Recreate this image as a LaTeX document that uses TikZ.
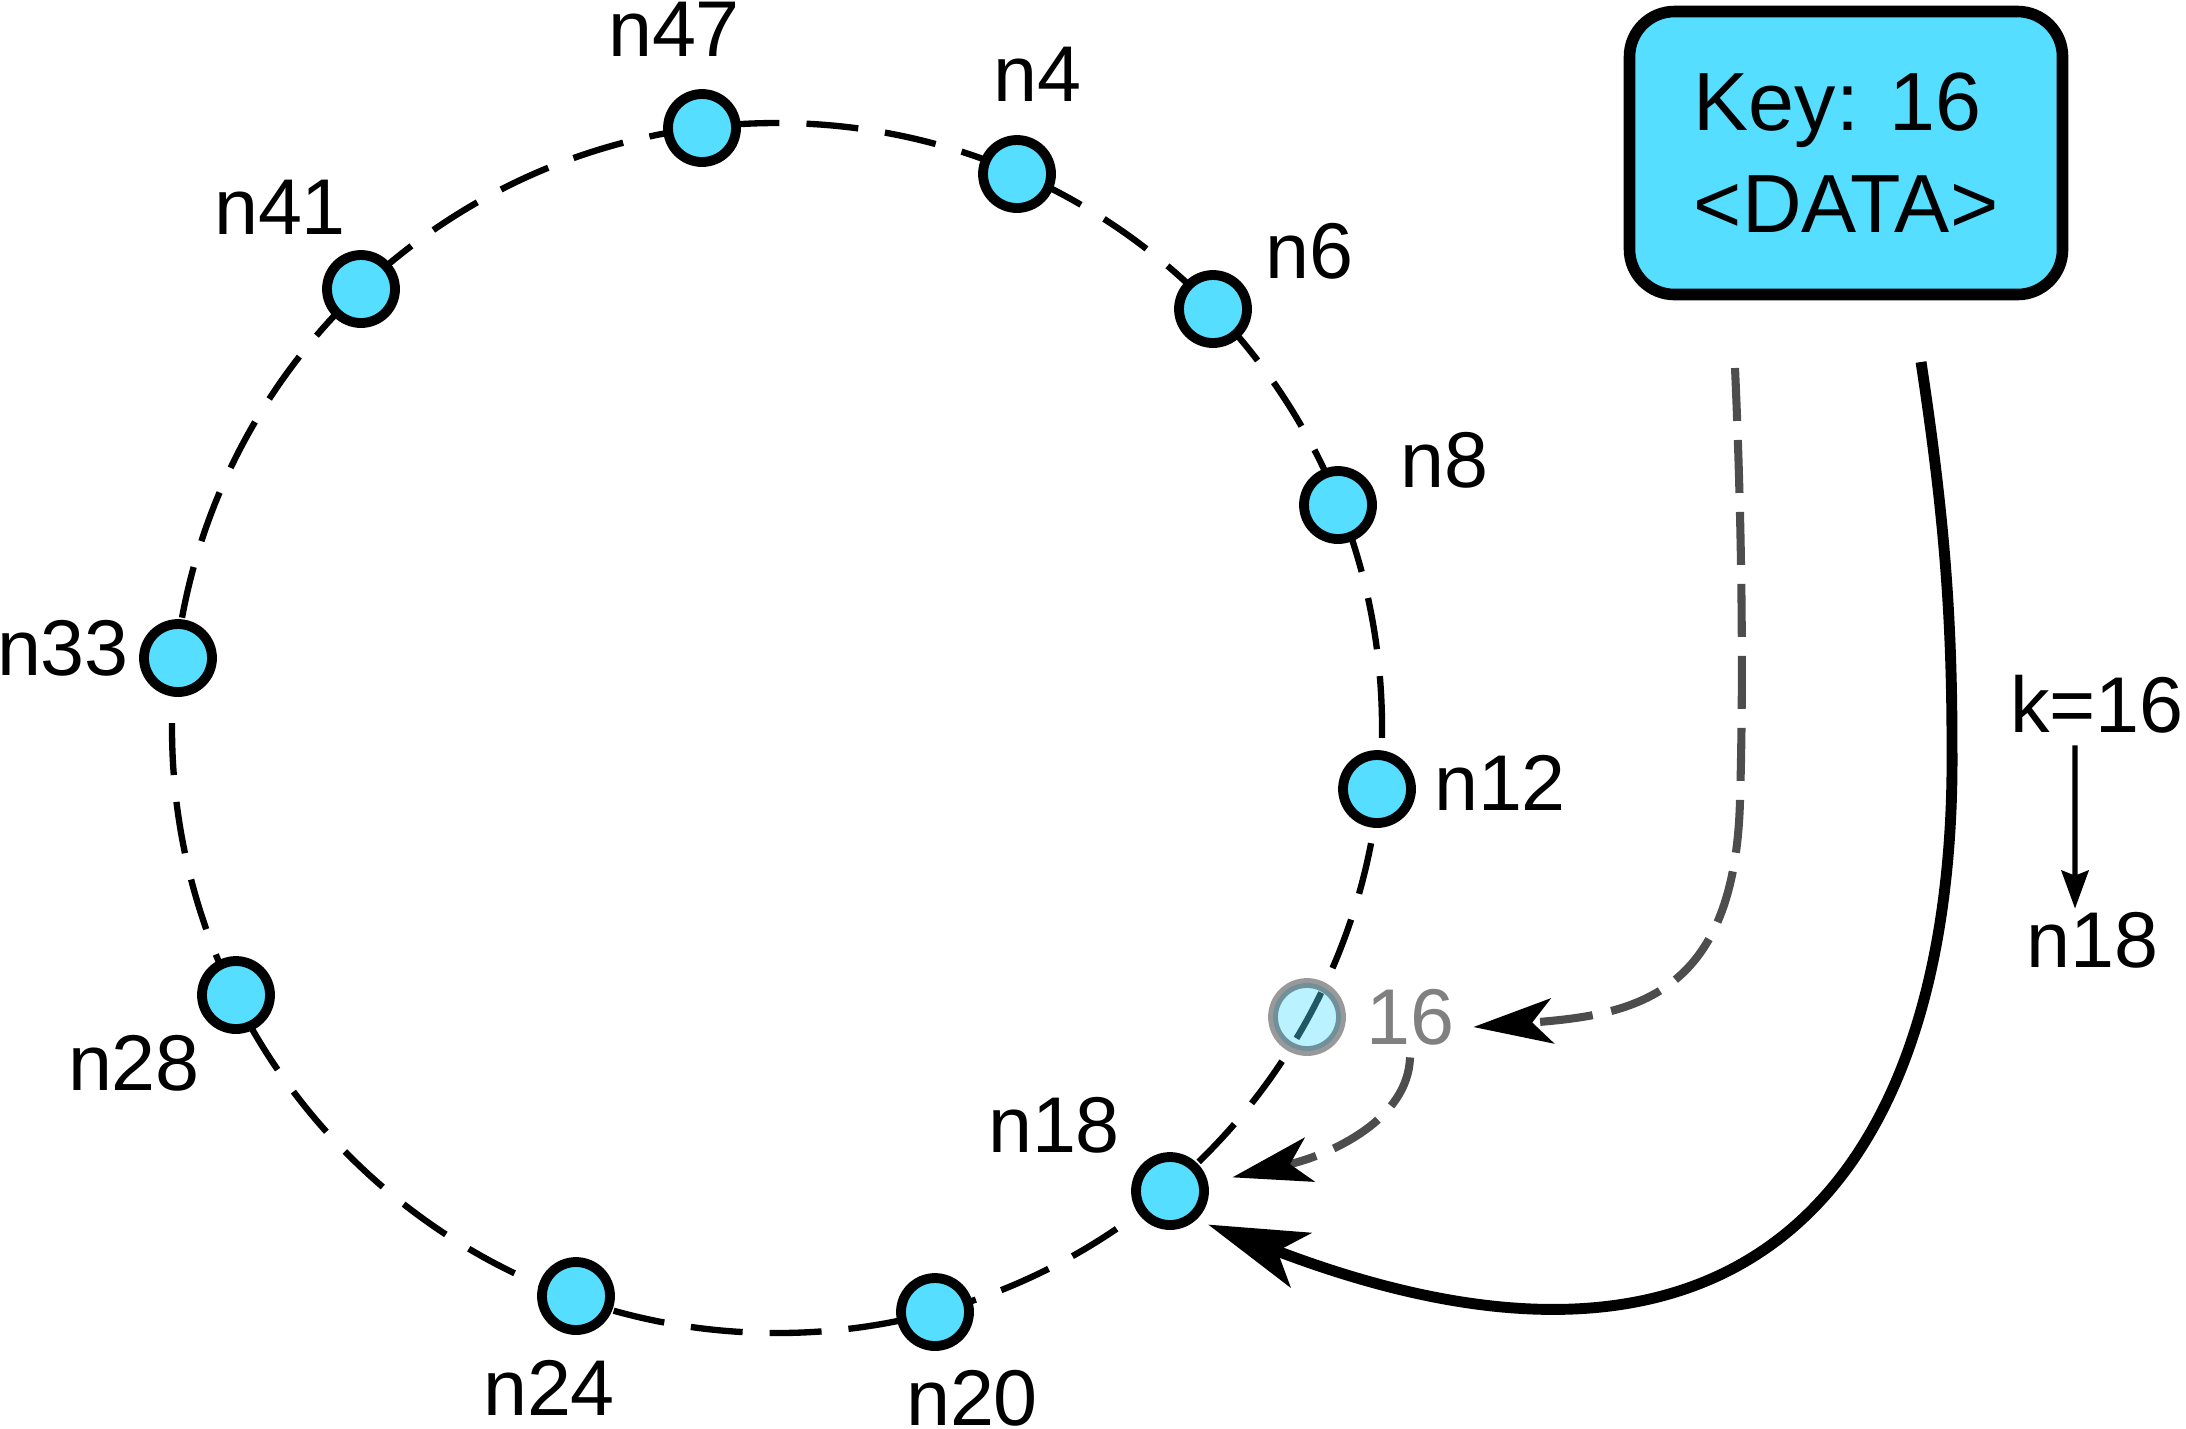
\documentclass[tikz,border=0pt]{standalone}
\usepackage{fontspec}
\setmainfont{Liberation Sans}
\usetikzlibrary{arrows.meta}
\definecolor{peercyan}{RGB}{85,222,255}
\definecolor{hopgray}{RGB}{77,77,77}
\tikzset{
  peer/.style={circle, draw=black, line width=2.8pt, fill=peercyan, minimum size=6.8mm, inner sep=0pt},
  ring/.style={line width=1.8pt, dash pattern=on 5.2mm off 2.7mm},
  hop/.style={hopgray, line width=2.3pt, dash pattern=on 5.3mm off 1.9mm, -{Stealth[black, length=7.9mm, width=4.5mm, inset=2mm]}},
}
\begin{document}
\begin{tikzpicture}[font=\fontsize{22.5}{28}\selectfont]
\useasboundingbox (0,0) rectangle (21.86,-14.28);
\draw[ring] (7.77,-7.28) circle (6.05);
\node[peer] (n47) at (7.02,-1.28) {};
\node[peer] (n4) at (10.17,-1.74) {};
\node[peer] (n6) at (12.13,-3.09) {};
\node[peer] (n8) at (13.38,-5.05) {};
\node[peer] (n12) at (13.77,-7.89) {};
\node[peer, opacity=0.4] (p16) at (13.07,-10.17) {};
\node[peer] (n18) at (11.70,-11.91) {};
\node[peer] (n20) at (9.35,-13.12) {};
\node[peer] (n24) at (5.76,-12.96) {};
\node[peer] (n28) at (2.36,-9.95) {};
\node[peer] (n33) at (1.78,-6.58) {};
\node[peer] (n41) at (3.61,-2.89) {};
\node (l47) at (6.74,-0.29) {n47};
\node (l4) at (10.37,-0.74) {n4};
\node (l6) at (13.09,-2.51) {n6};
\node (l8) at (14.44,-4.60) {n8};
\node (l12) at (15.00,-7.83) {n12};
\node[text=black!50] (l16) at (14.10,-10.17) {16};
\node (l18) at (10.54,-11.25) {n18};
\node (l20) at (9.72,-13.98) {n20};
\node (l24) at (5.49,-13.88) {n24};
\node (l28) at (1.34,-10.63) {n28};
\node (l33) at (0.63,-6.48) {n33};
\node (l41) at (2.80,-2.07) {n41};
\node[draw, line width=3.3pt, fill=peercyan, rounded corners=4.5mm, minimum width=4.33cm, minimum height=2.83cm, align=left, font=\fontsize{23.5}{29}\selectfont] (key) at (18.46,-1.53) {Key: 16\\<DATA>};
\node (rule) at (20.97,-7.04) {k=16};
\node (owner) at (20.92,-9.40) {n18};
\coordinate (put) at (17.35,-3.68);
\coordinate (get) at (19.21,-3.62);
\draw[hop] (put) .. controls (17.43,-5.5) and (17.43,-7.0) .. (17.40,-8.0) .. controls (17.35,-10.0) and (16.3,-10.15) .. ([xshift=0.7mm, yshift=-1mm]l16.east);
\draw[hop, shorten >=2.5mm] (l16.south) .. controls (14.08,-11.2) and (13.3,-11.55) .. (n18.12);
\draw[line width=3.1pt, -{Stealth[length=9.9mm, width=5.8mm, inset=2.5mm]}, shorten >=1.3mm] (get) .. controls (19.45,-5.2) and (19.52,-6.2) .. (19.52,-7.5) .. controls (19.55,-11.5) and (17.7,-14.4) .. (n18.-48);
\draw[line width=1.5pt, -{Stealth[length=3.8mm, width=2.7mm, inset=0.5mm]}] ([xshift=-2.2mm]rule.south) -- ([xshift=-1.7mm, yshift=-0.9mm]owner.north);
\end{tikzpicture}
\end{document}
